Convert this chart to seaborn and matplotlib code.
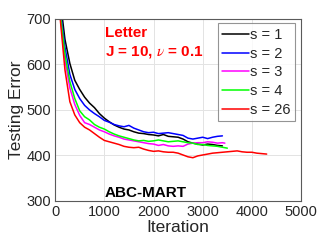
import matplotlib
matplotlib.use("Agg")
import matplotlib.pyplot as plt
import pandas as pd
import seaborn as sns

iters_s1 = list(range(100, 3500, 100))
err_s1 = [745, 655, 602, 565, 545, 528, 515, 505, 492, 482, 474, 467, 462, 458,
          456, 452, 449, 448, 446, 445, 443, 446, 442, 441, 440, 436, 430, 427,
          425, 423, 425, 424, 422, 421]

iters_s2 = list(range(100, 3500, 100))
err_s2 = [725, 638, 578, 545, 525, 510, 500, 492, 485, 477, 473, 468, 465, 463,
          466, 460, 456, 452, 450, 451, 448, 449, 450, 448, 446, 444, 438, 436,
          438, 440, 437, 440, 442, 443]

iters_s3 = list(range(100, 3500, 100)) + [3450]
err_s3 = [712, 610, 548, 512, 488, 472, 468, 462, 456, 452, 447, 443, 440, 436,
          434, 432, 430, 428, 426, 425, 422, 424, 421, 420, 421, 420, 425, 427,
          428, 428, 430, 429, 427, 428, 427]

iters_s4 = list(range(100, 3600, 100))
err_s4 = [718, 622, 562, 525, 498, 485, 478, 468, 462, 458, 452, 447, 443, 440,
          437, 434, 432, 433, 431, 432, 434, 432, 430, 431, 432, 430, 428, 427,
          424, 424, 422, 421, 420, 418, 416]

iters_s26 = list(range(100, 4400, 100))
err_s26 = [705, 588, 518, 489, 472, 462, 456, 448, 440, 433, 430, 427, 424, 420,
           418, 417, 418, 414, 411, 409, 410, 408, 407, 407, 405, 401, 397, 395,
           399, 401, 403, 405, 406, 407, 408, 409, 410, 408, 407, 407, 405, 404,
           403]

series_labels = ["s = 1", "s = 2", "s = 3", "s = 4", "s = 26"]
series_colors = ["#000000", "#0000ff", "#ff00ff", "#00ff00", "#ff0000"]


def build_frame() -> pd.DataFrame:
    parts = []
    pairs = [(iters_s1, err_s1), (iters_s2, err_s2), (iters_s3, err_s3),
             (iters_s4, err_s4), (iters_s26, err_s26)]
    for label, (xs, ys) in zip(series_labels, pairs):
        parts.append(pd.DataFrame({"Iteration": xs, "Testing Error": ys, "s": label}))
    return pd.concat(parts, ignore_index=True)


def main() -> None:
    sns.set_theme(style="whitegrid")
    plt.rcParams["font.family"] = ["Liberation Sans", "DejaVu Sans"]
    plt.rcParams["mathtext.fontset"] = "stix"

    df = build_frame()
    fig = plt.figure(figsize=(3.32, 2.49), dpi=100)
    ax = fig.add_axes([0.166, 0.193, 0.741, 0.731])

    sns.lineplot(data=df, x="Iteration", y="Testing Error", hue="s",
                 palette=dict(zip(series_labels, series_colors)),
                 linewidth=1.1, ax=ax, legend=True)

    ax.set_xlim(0, 5000)
    ax.set_ylim(300, 700)
    ax.set_xticks([0, 1000, 2000, 3000, 4000, 5000])
    ax.set_yticks([300, 400, 500, 600, 700])
    ax.grid(True, color="#e3e3e3", linewidth=0.7)
    for spine in ax.spines.values():
        spine.set_color("#5a5a5a")
        spine.set_linewidth(0.8)
    ax.tick_params(axis="both", labelsize=10.5, colors="#262626", length=0, pad=3)
    ax.set_xlabel("Iteration", fontsize=12.5, color="#262626", labelpad=1)
    ax.set_ylabel("Testing Error", fontsize=12.5, color="#262626", labelpad=2)

    handles, labels = ax.get_legend_handles_labels()
    leg = ax.legend(handles, labels, loc="upper right",
                    bbox_to_anchor=(0.975, 0.975), fontsize=10.5,
                    frameon=True, fancybox=False, edgecolor="#7a7a7a",
                    handlelength=1.8, handletextpad=0.1, labelspacing=0.33,
                    borderpad=0.3, borderaxespad=0.0)
    leg.get_frame().set_linewidth(0.8)

    ax.text(1016, 669, "Letter", color="#ff0000", fontsize=11,
            fontweight="bold", va="center", ha="left")
    ax.text(1016, 627, r"J = 10, $\nu$ = 0.1", color="#ff0000", fontsize=11,
            fontweight="bold", va="center", ha="left")
    ax.text(1016, 318, "ABC-MART", color="#000000", fontsize=11,
            fontweight="bold", va="center", ha="left")

    fig.savefig("out.png", dpi=100)
    plt.close(fig)


if __name__ == "__main__":
    main()
